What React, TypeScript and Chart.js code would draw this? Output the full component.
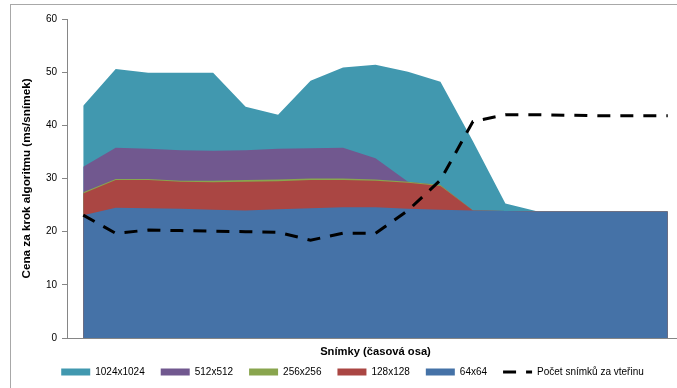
import React, { useEffect, useRef } from 'react';
import { Chart, registerables } from 'chart.js';

Chart.register(...registerables);

const categories = ['1','2','3','4','5','6','7','8','9','10','11','12','13','14','15','16','17','18','19'];

const s64 = [23.1, 24.5, 24.4, 24.3, 24.1, 24.0, 24.2, 24.4, 24.6, 24.6, 24.3, 24.1, 24.0, 23.9, 23.8, 23.8, 23.8, 23.8, 23.8];
const s128 = [4.1, 5.2, 5.3, 5.1, 5.2, 5.4, 5.3, 5.3, 5.1, 5.0, 4.9, 4.5, 0, 0, 0, 0, 0, 0, 0];
const s256 = [0.2, 0.2, 0.2, 0.2, 0.3, 0.3, 0.3, 0.3, 0.3, 0.2, 0.2, 0.2, 0, 0, 0, 0, 0, 0, 0];
const s512 = [4.8, 5.9, 5.7, 5.7, 5.6, 5.6, 5.8, 5.7, 5.8, 4.0, 0, 0, 0, 0, 0, 0, 0, 0, 0];
const s1024 = [11.5, 14.8, 14.3, 14.6, 14.7, 8.2, 6.4, 12.7, 15.1, 17.6, 20.7, 19.4, 13.0, 1.4, 0, 0, 0, 0, 0];
const fps = [23.1, 19.7, 20.3, 20.2, 20.1, 20.0, 19.9, 18.4, 19.7, 19.7, 24.0, 29.7, 40.7, 42.0, 42.0, 41.9, 41.8, 41.8, 41.8];

const yTicksMin = 0;
const yTicksMax = 60;
const yTicksStep = 10;

const FONT = "'Liberation Sans', Arial, sans-serif";

const C64 = '#4572A7';
const C128 = '#AA4643';
const C256 = '#89A54E';
const C512 = '#71588F';
const C1024 = '#4198AF';

export default function App() {
  const ref = useRef<HTMLCanvasElement | null>(null);

  useEffect(() => {
    if (!ref.current) return;
    const framePlugin = {
      id: 'frame',
      beforeDraw(chart: any) {
        const ctx = chart.ctx;
        ctx.save();
        ctx.fillStyle = '#ffffff';
        ctx.fillRect(0, 0, chart.width, chart.height);
        ctx.strokeStyle = '#A8A8A8';
        ctx.lineWidth = 1;
        ctx.strokeRect(10.5, 4.5, 900, 600);
        ctx.restore();
        if (chart.legend && !chart.legend.__shifted) {
          chart.legend.left += 21;
          chart.legend.__shifted = true;
        }
      },
    };

    const area = (label: string, data: number[], color: string) => ({
      type: 'line' as const,
      label,
      data,
      stack: 'areas',
      backgroundColor: color,
      borderColor: 'transparent',
      borderWidth: 0,
      pointRadius: 0,
      pointHoverRadius: 0,
      fill: 'origin',
      tension: 0,
    });

    const chart = new Chart(ref.current, {
      type: 'line',
      data: {
        labels: categories,
        datasets: [
          area('64x64', s64, C64),
          area('128x128', s128, C128),
          area('256x256', s256, C256),
          area('512x512', s512, C512),
          area('1024x1024', s1024, C1024),
          {
            type: 'line',
            label: 'Počet snímků za vteřinu',
            data: fps,
            stack: 'fps',
            borderColor: '#000000',
            backgroundColor: '#000000',
            borderWidth: 3,
            borderDash: [13, 10],
            borderCapStyle: 'butt',
            pointRadius: 0,
            pointHoverRadius: 0,
            fill: false,
            tension: 0,
            order: -1,
          } as any,
        ],
      },
      options: {
        responsive: false,
        animation: false,
        layout: { padding: { left: 0, right: 16, top: 19, bottom: 1 } },
        plugins: {
          tooltip: { enabled: false },
          legend: {
            position: 'bottom',
            labels: {
              usePointStyle: true,
              pointStyleWidth: 29,
              boxHeight: 7,
              padding: 16,
              color: '#000',
              font: { family: FONT, size: 10 },
              generateLabels: () => [
                { text: '1024x1024', fillStyle: C1024, strokeStyle: C1024, lineWidth: 0, pointStyle: 'rect', hidden: false, datasetIndex: 4, fontColor: '#000' },
                { text: '512x512', fillStyle: C512, strokeStyle: C512, lineWidth: 0, pointStyle: 'rect', hidden: false, datasetIndex: 3, fontColor: '#000' },
                { text: '256x256', fillStyle: C256, strokeStyle: C256, lineWidth: 0, pointStyle: 'rect', hidden: false, datasetIndex: 2, fontColor: '#000' },
                { text: '128x128', fillStyle: C128, strokeStyle: C128, lineWidth: 0, pointStyle: 'rect', hidden: false, datasetIndex: 1, fontColor: '#000' },
                { text: '64x64', fillStyle: C64, strokeStyle: C64, lineWidth: 0, pointStyle: 'rect', hidden: false, datasetIndex: 0, fontColor: '#000' },
                { text: 'Počet snímků za vteřinu', fillStyle: '#000', strokeStyle: '#000', lineWidth: 3, lineDash: [13, 10], lineCap: 'butt', pointStyle: 'line', hidden: false, datasetIndex: 5, fontColor: '#000' },
              ] as any,
            },
          },
        },
        scales: {
          x: {
            offset: true,
            ticks: { display: false },
            grid: { display: false },
            border: { display: true, color: '#868686', width: 1 },
            title: {
              display: true,
              text: 'Snímky (časová osa)',
              color: '#000',
              font: { family: FONT, size: 11.2, weight: 'bold' },
              padding: { top: 0, bottom: -8 },
            },
            afterFit: (s: any) => { s.height = 13; },
          },
          y: {
            stacked: true,
            min: yTicksMin,
            max: yTicksMax,
            ticks: { stepSize: yTicksStep, color: '#000', padding: 5, font: { family: FONT, size: 10 } },
            grid: { display: true, drawOnChartArea: false, drawTicks: true, tickLength: 5, color: '#868686' },
            border: { display: true, color: '#868686', width: 1 },
            title: {
              display: true,
              text: 'Cena za krok algoritmu (ms/snímek)',
              color: '#000',
              font: { family: FONT, size: 11.7, weight: 'bold' },
              padding: { top: 19.7, bottom: 0 },
            },
            afterFit: (s: any) => { s.width = 67; },
          },
        },
      } as any,
      plugins: [framePlugin],
    });
    return () => chart.destroy();
  }, []);

  return (
    <div style={{ position: 'absolute', left: 0, top: 0, width: 677, height: 388, overflow: 'hidden', background: '#fff' }}>
      <div style={{ width: 700, height: 388 }}>
        <canvas ref={ref} width={700} height={388} style={{ display: 'block' }} />
      </div>
    </div>
  );
}
